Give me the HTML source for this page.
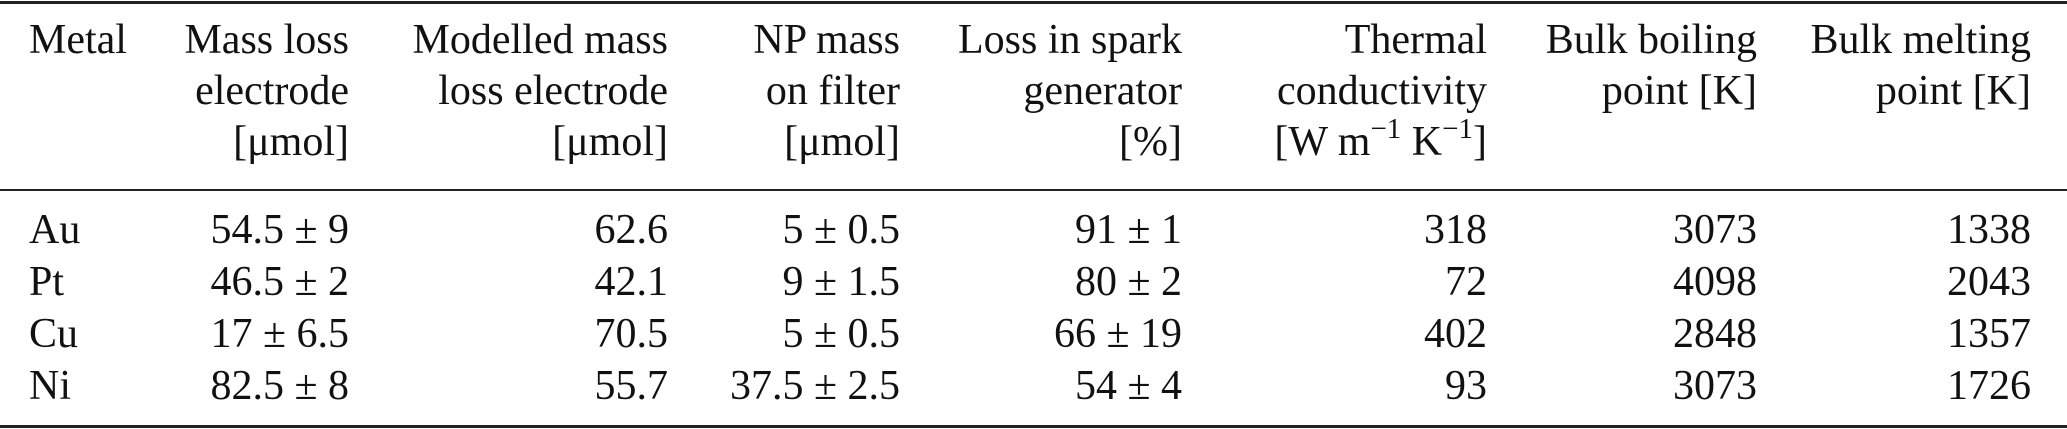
<!DOCTYPE html>
<html><head><meta charset="utf-8"><style>
html,body{margin:0;padding:0;background:#fff;}
svg{display:block;}
text{font-family:"Liberation Serif",serif;font-size:42px;fill:#111;}
</style></head><body>
<svg width="2067" height="429" viewBox="0 0 2067 429" xmlns="http://www.w3.org/2000/svg">
<rect x="0" y="1" width="2067" height="3" fill="#222"/>
<rect x="0" y="189" width="2067" height="2" fill="#222"/>
<rect x="0" y="425" width="2067" height="3" fill="#222"/>
<g>
<text x="29" y="53">Metal</text>
</g>
<g text-anchor="end">
<text x="349" y="53">Mass loss</text>
<text x="349" y="104">electrode</text>
<text x="349" y="155">[μmol]</text>
<text x="668" y="53">Modelled mass</text>
<text x="668" y="104">loss electrode</text>
<text x="668" y="155">[μmol]</text>
<text x="900" y="53">NP mass</text>
<text x="900" y="104">on filter</text>
<text x="900" y="155">[μmol]</text>
<text x="1182" y="53">Loss in spark</text>
<text x="1182" y="104">generator</text>
<text x="1182" y="155">[%]</text>
<text x="1487" y="53">Thermal</text>
<text x="1487" y="104">conductivity</text>
<text x="1487" y="155">[W m<tspan font-size="29" dy="-17">−1</tspan><tspan dy="17"> K</tspan><tspan font-size="29" dy="-17">−1</tspan><tspan dy="17">]</tspan></text>
<text x="1757" y="53">Bulk boiling</text>
<text x="1757" y="104">point [K]</text>
<text x="2031" y="53">Bulk melting</text>
<text x="2031" y="104">point [K]</text>
</g>
<g>
<text x="29" y="243">Au</text>
<text x="29" y="295">Pt</text>
<text x="29" y="347">Cu</text>
<text x="29" y="399">Ni</text>
</g>
<g text-anchor="end">
<text x="349" y="243">54.5 ± 9</text>
<text x="349" y="295">46.5 ± 2</text>
<text x="349" y="347">17 ± 6.5</text>
<text x="349" y="399">82.5 ± 8</text>
<text x="668" y="243">62.6</text>
<text x="668" y="295">42.1</text>
<text x="668" y="347">70.5</text>
<text x="668" y="399">55.7</text>
<text x="900" y="243">5 ± 0.5</text>
<text x="900" y="295">9 ± 1.5</text>
<text x="900" y="347">5 ± 0.5</text>
<text x="900" y="399">37.5 ± 2.5</text>
<text x="1182" y="243">91 ± 1</text>
<text x="1182" y="295">80 ± 2</text>
<text x="1182" y="347">66 ± 19</text>
<text x="1182" y="399">54 ± 4</text>
<text x="1487" y="243">318</text>
<text x="1487" y="295">72</text>
<text x="1487" y="347">402</text>
<text x="1487" y="399">93</text>
<text x="1757" y="243">3073</text>
<text x="1757" y="295">4098</text>
<text x="1757" y="347">2848</text>
<text x="1757" y="399">3073</text>
<text x="2031" y="243">1338</text>
<text x="2031" y="295">2043</text>
<text x="2031" y="347">1357</text>
<text x="2031" y="399">1726</text>
</g>
</svg>
</body></html>
